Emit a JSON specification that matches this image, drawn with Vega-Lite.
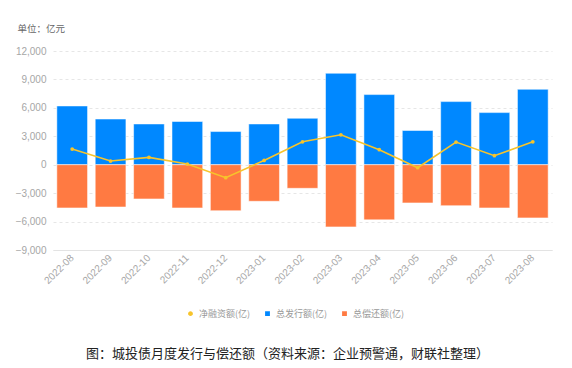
{
  "$schema": "https://vega.github.io/schema/vega-lite/v6.json",
  "autosize": {"type": "none"},
  "width": 499,
  "height": 199,
  "padding": {"left": 53, "top": 51, "right": 20, "bottom": 118},
  "background": "#ffffff",
  "config": {
    "font": "Liberation Sans, Noto Sans CJK SC",
    "view": {"stroke": null}
  },
  "title": {
    "text": "图：城投债月度发行与偿还额（资料来源：企业预警通，财联社整理）",
    "orient": "bottom",
    "anchor": "middle",
    "font": "Noto Sans CJK SC",
    "fontSize": 13,
    "fontWeight": "normal",
    "color": "#222222",
    "dx": -15,
    "offset": 28
  },
  "data": {
    "values": [
      {"month": "2022-08", "series": "总发行额(亿)", "value": 6200},
      {"month": "2022-09", "series": "总发行额(亿)", "value": 4820},
      {"month": "2022-10", "series": "总发行额(亿)", "value": 4300},
      {"month": "2022-11", "series": "总发行额(亿)", "value": 4560},
      {"month": "2022-12", "series": "总发行额(亿)", "value": 3500},
      {"month": "2023-01", "series": "总发行额(亿)", "value": 4300},
      {"month": "2023-02", "series": "总发行额(亿)", "value": 4900},
      {"month": "2023-03", "series": "总发行额(亿)", "value": 9650},
      {"month": "2023-04", "series": "总发行额(亿)", "value": 7400},
      {"month": "2023-05", "series": "总发行额(亿)", "value": 3610},
      {"month": "2023-06", "series": "总发行额(亿)", "value": 6660},
      {"month": "2023-07", "series": "总发行额(亿)", "value": 5500},
      {"month": "2023-08", "series": "总发行额(亿)", "value": 7960},
      {"month": "2022-08", "series": "总偿还额(亿)", "value": -4560},
      {"month": "2022-09", "series": "总偿还额(亿)", "value": -4460},
      {"month": "2022-10", "series": "总偿还额(亿)", "value": -3610},
      {"month": "2022-11", "series": "总偿还额(亿)", "value": -4560},
      {"month": "2022-12", "series": "总偿还额(亿)", "value": -4850},
      {"month": "2023-01", "series": "总偿还额(亿)", "value": -3860},
      {"month": "2023-02", "series": "总偿还额(亿)", "value": -2490},
      {"month": "2023-03", "series": "总偿还额(亿)", "value": -6560},
      {"month": "2023-04", "series": "总偿还额(亿)", "value": -5820},
      {"month": "2023-05", "series": "总偿还额(亿)", "value": -4030},
      {"month": "2023-06", "series": "总偿还额(亿)", "value": -4320},
      {"month": "2023-07", "series": "总偿还额(亿)", "value": -4560},
      {"month": "2023-08", "series": "总偿还额(亿)", "value": -5610},
      {"month": "2022-08", "series": "净融资额(亿)", "value": 1650},
      {"month": "2022-09", "series": "净融资额(亿)", "value": 390},
      {"month": "2022-10", "series": "净融资额(亿)", "value": 770},
      {"month": "2022-11", "series": "净融资额(亿)", "value": 70},
      {"month": "2022-12", "series": "净融资额(亿)", "value": -1370},
      {"month": "2023-01", "series": "净融资额(亿)", "value": 450},
      {"month": "2023-02", "series": "净融资额(亿)", "value": 2420},
      {"month": "2023-03", "series": "净融资额(亿)", "value": 3160},
      {"month": "2023-04", "series": "净融资额(亿)", "value": 1580},
      {"month": "2023-05", "series": "净融资额(亿)", "value": -320},
      {"month": "2023-06", "series": "净融资额(亿)", "value": 2390},
      {"month": "2023-07", "series": "净融资额(亿)", "value": 950},
      {"month": "2023-08", "series": "净融资额(亿)", "value": 2420}
    ]
  },
  "encoding": {
    "x": {
      "field": "month",
      "type": "ordinal",
      "scale": {"paddingInner": 0.2, "paddingOuter": 0.1},
      "axis": {
        "title": null,
        "labelAngle": -45,
        "labelAlign": "right",
        "labelBaseline": "middle",
        "labelFontSize": 10,
        "labelColor": "#a6a6a6",
        "labelPadding": 6,
        "ticks": false,
        "domainColor": "#e3e3e3",
        "grid": false
      }
    },
    "y": {
      "field": "value",
      "type": "quantitative",
      "scale": {"domain": [-9000, 12000], "nice": false, "zero": false},
      "axis": {
        "values": [-9000, -6000, -3000, 0, 3000, 6000, 9000, 12000],
        "format": ",.0f",
        "title": "单位：亿元",
        "titleAngle": 0,
        "titleAlign": "left",
        "titleBaseline": "middle",
        "titleX": -36,
        "titleY": -23,
        "titleFont": "Noto Sans CJK SC",
        "titleFontSize": 9.5,
        "titleFontWeight": "normal",
        "titleColor": "#666666",
        "labelFontSize": 10,
        "labelColor": "#a6a6a6",
        "labelPadding": 7,
        "domain": false,
        "ticks": false,
        "grid": true,
        "gridColor": "#e6e6e6",
        "gridDash": [3, 3]
      }
    }
  },
  "layer": [
    {
      "transform": [{"filter": "datum.series !== '净融资额(亿)'"}],
      "mark": {"type": "bar", "stroke": "#ffffff", "strokeWidth": 1, "strokeOpacity": 0.5},
      "encoding": {
        "color": {
          "field": "series",
          "type": "nominal",
          "scale": {
            "domain": ["净融资额(亿)", "总发行额(亿)", "总偿还额(亿)"],
            "range": ["#F7C42B", "#0088FF", "#FF7A42"]
          },
          "legend": {
            "title": null,
            "orient": "none",
            "direction": "horizontal",
            "legendX": 133,
            "legendY": 258,
            "labelFont": "Noto Sans CJK SC",
            "labelFontSize": 9,
            "labelColor": "#999999",
            "symbolSize": 40,
            "columnPadding": 10,
            "labelOffset": 4
          }
        }
      }
    },
    {
      "transform": [{"filter": "datum.series === '净融资额(亿)'"}],
      "mark": {"type": "line", "color": "#F7C42B", "strokeWidth": 1.6},
      "encoding": {}
    },
    {
      "transform": [{"filter": "datum.series === '净融资额(亿)'"}],
      "mark": {"type": "point", "filled": true, "size": 14, "opacity": 1},
      "encoding": {
        "color": {"field": "series", "type": "nominal"},
        "shape": {
          "field": "series",
          "type": "nominal",
          "scale": {
            "domain": ["净融资额(亿)", "总发行额(亿)", "总偿还额(亿)"],
            "range": ["circle", "square", "square"]
          },
          "legend": {
            "title": null,
            "orient": "none",
            "direction": "horizontal",
            "legendX": 133,
            "legendY": 258,
            "labelFont": "Noto Sans CJK SC",
            "labelFontSize": 9,
            "labelColor": "#999999",
            "symbolSize": 40,
            "columnPadding": 10,
            "labelOffset": 4
          }
        }
      }
    }
  ]
}
